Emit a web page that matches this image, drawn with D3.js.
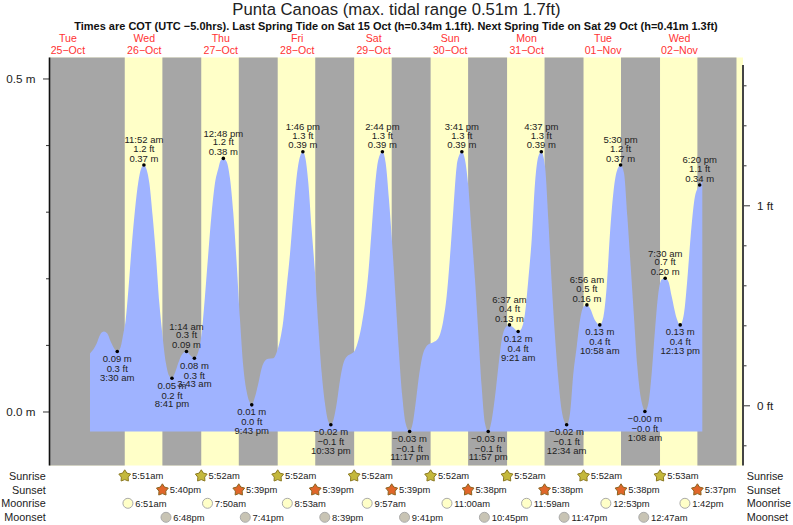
<!DOCTYPE html>
<html><head><meta charset="utf-8">
<script src="https://cdn.jsdelivr.net/npm/d3@7"></script>
<style>html,body{margin:0;padding:0;background:#fff}svg{display:block}text{font-family:"Liberation Sans",Arial,sans-serif}</style>
</head><body><svg id="c" width="793" height="525"></svg>
<script>
// hours since 26 Oct 00:00 local
const tideHours=[-5.06,-2.97,-1.92,-0.66,0.38,1.43,2.48,3.5,4.57,5.41,6.14,6.98,8.02,9.07,10.12,10.95,11.87,12.73,13.57,14.61,15.66,16.71,17.75,18.8,19.85,20.68,21.63,22.67,23.72,25.23,26.33,27.72,28.95,30,31.04,32.09,33.13,34.18,35.23,35.96,36.8,37.84,38.89,39.93,40.98,42.03,43.07,44.12,44.96,45.72,46.74,47.78,48.83,49.87,50.92,52.49,53.75,54.59,55.64,56.68,57.73,58.77,59.82,60.87,61.77,62.65,63.48,64.53,65.58,66.62,67.67,68.71,69.76,70.55,71.33,72.38,73.42,74.47,75.52,77.08,78.13,79.18,80.22,81.27,82.31,83.36,84.41,85.45,86.73,87.76,88.8,89.85,90.9,91.94,92.99,94.03,95.28,96.23,97.28,98.32,99.37,100.42,101.67,102.72,104.29,105.86,106.9,107.95,109,110.04,110.88,111.68,112.66,113.7,114.75,115.8,116.84,117.89,118.94,119.95,121.03,122.08,123.12,124.17,125.21,126.62,127.83,129.35,130.45,131.49,132.54,133.59,134.64,135.68,136.62,137.78,138.82,139.87,140.91,141.96,143,143.84,144.57,145.62,146.67,147.72,148.76,149.81,150.93,151.9,153.47,154.97,156.1,157.13,158.18,159.23,160.27,161.5,162.57,163.62,164.67,165.71,166.76,167.8,168.64,169.13,170.21,171.26,172.3,173.35,174.4,175.5,176.5,177.53,179.1,180.22,181.4,182.45,183.5,184.86,186.33,187.16];
const tideMetres=[.087,.102,.115,.12,.117,.105,.095,.09,.097,.117,.137,.182,.2475,.303,.345,.364,.37,.363,.343,.293,.233,.1625,.112,.072,.053,.05,.058,.073,.085,.09,.085,.08,.09,.118,.173,.238,.298,.343,.365,.377,.38,.375,.35,.298,.223,.138,.067,.03,.015,.01,.022,.042,.065,.076,.079,.08,.092,.107,.137,.187,.237,.298,.353,.383,.39,.378,.343,.273,.208,.128,.058,.012,-.015,-.02,-.013,.012,.047,.072,.082,.087,.092,.107,.13,.1625,.2075,.273,.338,.378,.39,.373,.318,.248,.168,.088,.022,-.018,-.03,-.018,.017,.057,.085,.097,.102,.104,.11,.137,.173,.2325,.303,.368,.385,.39,.378,.338,.268,.198,.118,.038,-.018,-.03,-.013,.022,.067,.107,.125,.13,.126,.12,.125,.147,.198,.258,.343,.383,.39,.368,.288,.193,.113,.048,.002,-.015,-.02,-.003,.057,.097,.137,.157,.16,.155,.137,.13,.142,.187,.268,.328,.36,.37,.358,.293,.218,.142,.067,.022,.005,0,.012,.057,.122,.1775,.198,.2,.195,.173,.14,.13,.147,.198,.263,.323,.34,.347];

const eventHours=[3.5,11.87,20.68,25.23,27.72,36.8,45.72,61.77,70.55,86.73,95.28,111.68,119.95,126.62,129.35,136.62,144.57,150.93,154.97,161.5,169.13,175.5,180.22,186.33];
const eventMetres=[.09,.37,.05,.09,.08,.38,.01,.39,-.02,.39,-.03,.39,-.03,.13,.12,.39,-.02,.16,.13,.37,0,.2,.13,.34];
const eventAbove=[0,1,0,1,0,1,0,1,0,1,0,1,0,1,0,1,0,1,0,1,0,1,0,1];
const eventHeightM=["0.09 m","0.37 m","0.05 m","0.09 m","0.08 m","0.38 m","0.01 m","0.39 m","−0.02 m","0.39 m","−0.03 m","0.39 m","−0.03 m","0.13 m","0.12 m","0.39 m","−0.02 m","0.16 m","0.13 m","0.37 m","−0.00 m","0.20 m","0.13 m","0.34 m"];
const eventHeightFt=["0.3 ft","1.2 ft","0.2 ft","0.3 ft","0.3 ft","1.2 ft","0.0 ft","1.3 ft","−0.1 ft","1.3 ft","−0.1 ft","1.3 ft","−0.1 ft","0.4 ft","0.4 ft","1.3 ft","−0.1 ft","0.5 ft","0.4 ft","1.2 ft","−0.0 ft","0.7 ft","0.4 ft","1.1 ft"];
const eventTime=["3:30 am","11:52 am","8:41 pm","1:14 am","3:43 am","12:48 pm","9:43 pm","1:46 pm","10:33 pm","2:44 pm","11:17 pm","3:41 pm","11:57 pm","6:37 am","9:21 am","4:37 pm","12:34 am","6:56 am","10:58 am","5:30 pm","1:08 am","7:30 am","12:13 pm","6:20 pm"];

const dayNames=["Tue","Wed","Thu","Fri","Sat","Sun","Mon","Tue","Wed"];
const dayDates=["25−Oct","26−Oct","27−Oct","28−Oct","29−Oct","30−Oct","31−Oct","01−Nov","02−Nov"];
const sunrise=["5:51am","5:52am","5:52am","5:52am","5:52am","5:52am","5:52am","5:53am"];
const sunset=["5:40pm","5:39pm","5:39pm","5:39pm","5:38pm","5:38pm","5:38pm","5:37pm"];
const moonrise=["6:51am","7:50am","8:53am","9:57am","11:00am","11:59am","12:53pm","1:42pm"];
const moonset=["6:48pm","7:41pm","8:39pm","9:41pm","10:45pm","11:47pm","12:47am"];
const moonsetDay=[0,1,2,3,4,5,7];
const nextSunrise="5:53am";
const leftMajor=[0,.5], leftMinor=[.1,.2,.3,.4];
const rightMajor=[0,1], rightMinor=[-.2,.2,.4,.6,.8,1.2,1.4,1.6];
const title="Punta Canoas (max. tidal range 0.51m 1.7ft)";
const subtitle="Times are COT (UTC −5.0hrs). Last Spring Tide on Sat 15 Oct (h=0.34m 1.1ft). Next Spring Tide on Sat 29 Oct (h=0.41m 1.3ft)";

const L=49.5,R=743,T=57.5,B=465.5;
const x=d3.scaleLinear().domain([-17.77,199.93]).range([L,R]);
const y=d3.scaleLinear().domain([-.0811,.5315]).range([B,T]);
const yFt=d3.scaleLinear().domain([-.3,1.7]).range([465.3,65.3]);
const svg=d3.select("#c");
const hrs=s=>{const m=s.match(/(\d+):(\d+)(am|pm)/);return (+m[1]%12)+(+m[2])/60+(m[3]=="pm"?12:0)};
const at=(s,d)=>x(d*24+hrs(s));

// day / night
svg.append("rect").attr("x",L).attr("y",T).attr("width",R-L).attr("height",B-T).attr("fill","#ffffc8");
const nightStart=[x.domain()[0],...sunset.map((s,i)=>i*24+hrs(s))];
const nightEnd=[...sunrise,nextSunrise].map((s,i)=>i*24+hrs(s));
svg.append("g").selectAll("rect").data(nightStart).join("rect")
 .attr("x",d=>x(d)).attr("y",T).attr("height",B-T)
 .attr("width",(d,i)=>x(nightEnd[i])-x(d)).attr("fill","#a6a6a6");

// tide
const area=d3.area().x(d=>x(d[0])).y0(y(-.03)).y1(d=>y(d[1])).curve(d3.curveMonotoneX);
svg.append("path").datum(d3.zip(tideHours,tideMetres)).attr("d",area).attr("fill","#9fb3ff");

// axes
function ax(gen,xp,size,vals,sc,fmt){
 const g=svg.append("g").attr("transform",`translate(${xp},0)`).call(gen(sc).tickValues(vals).tickSize(size).tickFormat(fmt));
 g.select(".domain").remove();
 g.selectAll("line").attr("stroke","#333").attr("stroke-width",1);
 g.selectAll("text").attr("font-size",11.7).attr("fill","#222").attr("font-family","Liberation Sans");
 return g;
}
ax(d3.axisLeft,L,6.5,leftMajor,y,d=>d3.format(".1f")(d)+" m").selectAll("text").attr("x",-14);
ax(d3.axisLeft,L,3.5,leftMinor,y,()=>"");
ax(d3.axisRight,R,7,rightMajor,yFt,d=>d+" ft").selectAll("text").attr("x",14);
ax(d3.axisRight,R,3.5,rightMinor,yFt,()=>"");
svg.append("line").attr("x1",L).attr("x2",L).attr("y1",T).attr("y2",B).attr("stroke","#111").attr("stroke-width",1.6);
svg.append("line").attr("x1",R).attr("x2",R).attr("y1",65).attr("y2",B).attr("stroke","#444").attr("stroke-width",2);

// titles
svg.append("text").attr("x",396.5).attr("y",15).attr("text-anchor","middle").attr("font-size",16.7).attr("fill","#222").text(title);
svg.append("text").attr("x",396).attr("y",29.5).attr("text-anchor","middle").attr("font-size",10.97).attr("font-weight","bold").attr("fill","#111").text(subtitle);
dayNames.forEach((n,i)=>{
 const cx=x((i-1)*24+12);
 svg.append("text").attr("x",cx).attr("y",41.5).attr("text-anchor","middle").attr("font-size",10.6).attr("fill","#f33").text(n);
 svg.append("text").attr("x",cx).attr("y",53.5).attr("text-anchor","middle").attr("font-size",10.6).attr("fill","#f33").text(dayDates[i]);
});

// event labels
eventHours.forEach((h,i)=>{
 const px=x(h),py=y(eventMetres[i]);
 const off=eventAbove[i]?[-6.7,-16.5,-25]:[7,17,25.6];
 [eventHeightM[i],eventHeightFt[i],eventTime[i]].forEach((t,k)=>{
  svg.append("text").attr("x",px).attr("y",py+off[k]).attr("dy",".36em").attr("text-anchor","middle").attr("font-size",9.5).attr("fill","#222").text(t);
 });
 svg.append("circle").attr("cx",px).attr("cy",py).attr("r",1.8).attr("fill","#000");
});

// bottom rows
const rows=[["Sunrise",476],["Sunset",490],["Moonrise",503.3],["Moonset",517.3]];
rows.forEach(r=>{
 svg.append("text").attr("x",45.7).attr("y",r[1]).attr("dy",".36em").attr("text-anchor","end").attr("font-size",10.8).attr("fill","#222").text(r[0]);
 svg.append("text").attr("x",746.7).attr("y",r[1]).attr("dy",".36em").attr("font-size",10.8).attr("fill","#222").text(r[0]);
});
const star=d3.lineRadial().curve(d3.curveLinearClosed)(d3.range(10).map(k=>[k*Math.PI/5,k%2?3.6:6.2]));
function starRow(list,yp,fill,stroke){list.forEach((s,i)=>{
 const px=at(s,i);
 svg.append("path").attr("d",star).attr("transform",`translate(${px},${yp})`).attr("fill",fill).attr("stroke",stroke).attr("stroke-width",1);
 svg.append("text").attr("x",px+7.3).attr("y",yp).attr("dy",".36em").attr("font-size",9.4).attr("fill","#222").text(s);
});}
starRow(sunrise,476,"#c4b83c","#8c7a22");
starRow(sunset,490,"#e0662a","#8c6420");
function moonRow(list,days,yp,fill){list.forEach((s,i)=>{
 const px=at(s,days[i]);
 svg.append("circle").attr("cx",px).attr("cy",yp).attr("r",5).attr("fill",fill).attr("stroke","#aaa").attr("stroke-width",1);
 svg.append("text").attr("x",px+7.3).attr("y",yp).attr("dy",".36em").attr("font-size",9.4).attr("fill","#222").text(s);
});}
moonRow(moonrise,d3.range(8),503.3,"#ffffc8");
moonRow(moonset,moonsetDay,517.3,"#c8c4b4");
</script></body></html>
